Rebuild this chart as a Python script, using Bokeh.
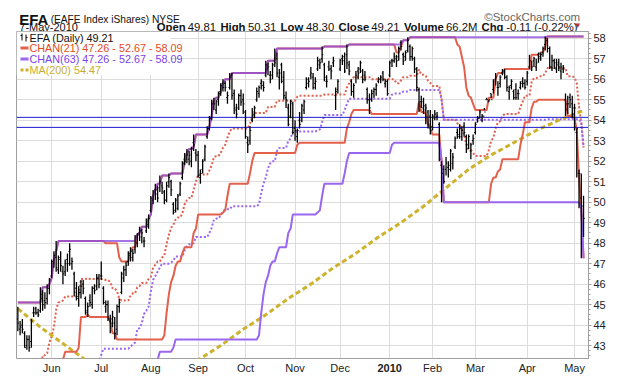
import pandas as pd
from bokeh.plotting import figure
from bokeh.layouts import column
from bokeh.models import Range1d, FixedTicker, LinearAxis
from bokeh.core.properties import value
from bokeh.embed import file_html
from bokeh.resources import INLINE

# ---------------- data ----------------
holidays = ["2009-05-25", "2009-07-03", "2009-09-07", "2009-11-26", "2009-12-25",
            "2010-01-01", "2010-01-18", "2010-02-15", "2010-04-02"]
dates = pd.bdate_range("2009-05-08", "2010-05-07", freq="C", holidays=holidays)

# 63 sessions before the window (Feb 6 - May 7 2009), only used by the channels
hist_high = [38.4, 38.6, 37.6, 36.9, 36.3, 36.1,
             35.4, 34.6, 34.2, 33.8,
             33.4, 33.5, 34.0, 34.4, 34.1,
             32.9, 32.6, 33.0, 32.4, 32.2,
             32.0, 33.6, 34.1, 34.6, 35.3,
             35.6, 35.5, 36.3, 36.7, 36.6,
             37.6, 38.9, 38.4, 39.0, 38.8,
             37.3, 37.8, 38.5, 39.8, 40.1,
             39.6, 38.8, 39.0, 40.1,
             40.0, 39.7, 39.6, 40.0, 40.3,
             39.0, 39.1, 39.2, 39.6, 40.5,
             40.6, 40.7, 41.5, 41.8, 41.9,
             43.6, 43.8, 45.1, 44.6]
hist_low = [37.2, 37.5, 35.8, 35.6, 35.0, 35.2,
            33.6, 33.5, 33.0, 32.6,
            32.0, 32.3, 32.8, 33.5, 32.9,
            31.6, 31.4, 31.9, 31.2, 31.0,
            30.9, 31.5, 32.9, 33.2, 34.0,
            34.4, 34.2, 35.0, 35.6, 35.4,
            36.2, 37.6, 37.0, 37.8, 37.5,
            35.9, 36.3, 37.0, 38.6, 39.0,
            38.4, 37.6, 37.9, 39.0,
            38.9, 38.5, 38.4, 38.8, 39.2,
            37.6, 37.8, 38.0, 38.2, 39.4,
            39.2, 39.4, 40.3, 40.6, 40.6,
            41.9, 42.1, 42.2, 42.3]

open_ = [
    # May 2009
    44.3, 43.8, 44.0, 43.6, 43.0, 43.3, 43.2, 44.6, 44.8, 44.6, 44.7, 45.3, 45.2, 45.3, 45.8,
    # Jun
    46.4, 47.0, 47.3, 46.7, 47.3, 46.6, 46.6, 47.2, 47.6, 47.0, 46.5, 45.8, 45.4, 45.6, 46.0,
    45.3, 44.7, 45.2, 45.0, 45.8, 45.9, 46.3,
    # Jul
    46.4, 45.8, 44.9, 45.0, 44.2, 44.3, 44.1, 43.8, 44.9, 45.6, 46.3, 46.7, 47.1, 47.5, 47.3,
    47.7, 48.0, 48.5, 48.3, 48.1, 48.6, 48.9,
    # Aug
    49.6, 50.1, 50.6, 50.6, 50.7, 50.8, 50.5, 50.1, 51.0, 51.0, 49.9, 49.6, 49.7, 50.4, 51.2,
    52.1, 52.1, 52.1, 52.0, 52.9, 52.4,
    # Sep
    52.3, 51.2, 51.6, 52.1, 53.2, 53.6, 54.1, 54.9, 54.5, 55.0, 55.4, 55.8, 55.8, 55.1, 55.6,
    56.2, 55.3, 54.5, 54.6, 55.2, 55.0,
    # Oct
    54.4, 52.9, 53.0, 54.0, 54.3, 55.0, 55.3, 55.8, 55.7, 56.2, 56.5, 56.2, 56.2, 56.9, 57.0,
    56.1, 56.7, 56.1, 55.1, 54.6, 54.2, 54.8,
    # Nov
    53.6, 53.2, 54.0, 54.0, 54.5, 55.6, 55.8, 56.2, 56.1, 55.8, 56.5, 56.7, 57.0, 56.7, 55.9,
    56.6, 56.5, 56.8, 55.2, 55.5,
    # Dec
    56.5, 57.0, 57.1, 57.2, 56.7, 55.9, 55.4, 56.1, 56.4, 56.5, 56.4, 56.2, 55.5, 55.0, 55.0,
    55.4, 55.5, 55.9, 56.0, 56.3, 55.8, 55.9,
    # Jan 2010
    56.2, 56.9, 56.9, 57.0, 57.1, 57.8, 57.2, 57.1, 57.4, 57.6, 57.1, 57.0, 56.5, 55.5, 54.9,
    54.6, 54.5, 54.4, 54.2,
    # Feb
    53.7, 54.1, 54.2, 53.8, 51.8, 51.6, 51.6, 51.7, 51.6, 51.9, 52.7, 53.4, 53.2, 53.2, 53.7,
    53.2, 52.8, 52.5, 53.0,
    # Mar
    53.4, 53.9, 54.1, 54.0, 54.2, 55.0, 54.9, 55.3, 55.5, 56.0, 55.6, 55.8, 56.3, 56.3, 56.1,
    55.4, 55.7, 55.4, 55.5, 55.3, 55.6, 55.9, 55.8,
    # Apr
    55.9, 56.6, 56.5, 56.9, 56.6, 57.2, 57.0, 57.3, 57.7, 57.9, 57.5, 56.6, 56.9, 56.5, 56.8,
    56.4, 56.5, 55.0, 54.8, 55.1, 54.8,
    # May 2010
    54.6, 53.4, 51.4, 50.2, 49.81,
]
high = [
    44.9, 44.2, 44.3, 43.7, 43.5, 43.5, 44.3, 44.9, 44.9, 44.8, 45.85, 45.7, 45.6, 46.0, 46.3,
    47.2, 47.6, 48.1, 47.4, 47.6, 46.9, 47.2, 47.5, 48.0, 47.3, 46.6, 46.1, 45.9, 46.2, 46.2,
    45.4, 45.1, 45.5, 45.9, 46.0, 46.5, 46.5,
    47.1, 45.9, 45.2, 45.2, 44.5, 44.7, 44.4, 45.0, 45.3, 46.6, 46.9, 47.1, 47.6, 47.8, 47.7,
    48.4, 48.5, 48.8, 48.7, 48.3, 49.2, 49.4,
    50.3, 50.6, 50.9, 50.8, 51.3, 51.0, 50.6, 51.0, 51.4, 51.1, 50.0, 50.2, 50.4, 51.0, 52.0,
    52.4, 52.6, 52.5, 52.7, 53.3, 52.6,
    52.5, 51.6, 52.1, 52.8, 53.7, 54.2, 55.0, 55.1, 55.0, 55.4, 55.8, 56.0, 55.9, 55.4, 56.3,
    56.3, 55.5, 54.8, 55.3, 55.5, 55.3,
    54.5, 53.2, 53.7, 54.6, 54.7, 55.6, 55.7, 56.0, 55.9, 56.9, 56.8, 56.4, 56.8, 57.5, 57.3,
    56.5, 56.8, 56.4, 55.4, 54.8, 55.0, 54.9,
    54.0, 53.6, 54.4, 54.8, 55.0, 56.1, 56.1, 56.6, 56.3, 56.1, 57.1, 57.0, 57.6, 56.8, 56.2,
    56.9, 56.7, 57.1, 55.6, 56.0,
    57.0, 57.2, 57.3, 57.7, 56.9, 56.0, 55.8, 56.4, 56.6, 56.9, 56.5, 56.4, 55.6, 55.3, 55.5,
    55.6, 55.8, 56.1, 56.2, 56.4, 56.0, 56.0,
    56.9, 57.0, 57.3, 57.2, 57.6, 57.9, 57.3, 57.4, 58.05, 57.7, 57.6, 57.1, 56.6, 55.6, 55.2,
    55.1, 54.8, 54.5, 54.5,
    54.3, 54.5, 54.4, 53.9, 52.0, 51.8, 52.2, 52.0, 52.6, 52.4, 53.2, 53.6, 53.8, 53.7, 53.9,
    53.3, 53.3, 52.9, 53.3,
    53.9, 54.2, 54.5, 54.3, 54.5, 55.1, 55.0, 55.1, 56.0, 56.3, 55.9, 56.2, 56.5, 56.5, 56.2,
    55.7, 56.0, 55.5, 55.8, 55.5, 55.9, 56.1, 56.0,
    56.4, 57.2, 56.9, 57.1, 57.0, 57.3, 57.3, 57.6, 58.09, 58.0, 57.6, 57.2, 57.0, 57.0, 57.0,
    56.8, 56.7, 55.3, 55.2, 55.3, 55.2,
    54.8, 53.6, 51.6, 51.4, 50.31,
]
low = [
    43.7, 43.5, 43.6, 42.9, 42.8, 42.7, 42.9, 44.4, 44.5, 44.4, 44.6, 44.7, 44.8, 45.0, 45.5,
    46.3, 46.8, 46.6, 46.5, 46.6, 46.0, 46.4, 46.6, 46.9, 46.7, 45.4, 45.2, 44.9, 45.3, 45.5,
    44.5, 44.4, 44.9, 44.8, 45.5, 45.7, 45.8,
    46.2, 45.0, 44.6, 44.2, 43.6, 43.9, 43.3, 43.5, 44.6, 45.5, 46.1, 46.4, 46.9, 47.1, 47.1,
    47.5, 47.8, 48.1, 48.0, 47.8, 48.5, 48.7,
    49.5, 49.9, 50.1, 50.0, 50.5, 50.4, 49.9, 50.0, 50.7, 50.3, 49.4, 49.5, 49.6, 50.3, 51.1,
    51.8, 51.9, 51.8, 51.7, 52.5, 52.0,
    51.2, 50.9, 51.4, 52.0, 53.1, 53.5, 54.0, 54.5, 54.3, 54.7, 55.2, 55.4, 55.4, 54.8, 55.5,
    55.0, 54.3, 54.1, 54.5, 54.7, 54.3,
    53.1, 52.4, 52.8, 53.9, 54.1, 54.9, 55.1, 55.5, 55.4, 56.1, 56.2, 55.8, 56.0, 56.6, 56.1,
    55.5, 55.8, 55.0, 54.6, 53.7, 54.1, 53.3,
    53.0, 52.9, 53.6, 53.9, 54.3, 55.5, 55.6, 56.0, 55.5, 55.5, 56.4, 56.5, 56.8, 55.9, 55.6,
    56.4, 56.0, 56.6, 54.5, 55.3,
    56.4, 56.7, 56.3, 56.5, 56.2, 55.2, 55.1, 55.8, 56.0, 56.3, 55.8, 55.9, 54.8, 54.3, 54.9,
    55.1, 55.2, 55.8, 55.8, 55.9, 55.6, 55.2,
    56.1, 56.6, 56.8, 56.6, 56.9, 57.4, 56.7, 56.9, 57.3, 56.9, 56.9, 56.3, 55.4, 54.4, 54.6,
    54.3, 53.8, 53.6, 53.3,
    53.5, 54.0, 54.0, 52.0, 50.0, 50.9, 51.3, 51.2, 51.5, 51.6, 52.6, 53.1, 53.1, 53.0, 53.2,
    52.4, 52.6, 52.1, 52.8,
    53.3, 53.9, 54.1, 53.9, 54.6, 55.0, 54.9, 55.3, 55.3, 55.7, 55.2, 55.6, 56.2, 56.0, 55.4,
    55.0, 55.5, 55.0, 55.0, 55.0, 55.5, 55.6, 55.5,
    55.7, 56.5, 56.4, 56.6, 56.4, 56.8, 56.9, 57.1, 57.4, 57.3, 56.5, 56.4, 56.5, 56.3, 56.4,
    56.0, 56.3, 54.2, 54.3, 54.6, 54.1,
    53.5, 51.2, 49.7, 47.26, 48.30,
]
close = [
    44.1, 43.9, 43.8, 42.9, 43.3, 42.9, 44.2, 44.6, 44.6, 44.5, 45.5, 45.0, 45.1, 45.8, 46.2,
    47.1, 47.4, 46.8, 47.2, 46.9, 46.5, 47.0, 47.0, 47.7, 47.1, 45.6, 45.3, 45.6, 45.9, 45.8,
    44.6, 44.9, 45.1, 45.8, 45.7, 46.3, 46.0,
    46.4, 45.1, 45.0, 44.3, 44.1, 44.4, 43.6, 44.9, 45.1, 46.5, 46.7, 46.9, 47.4, 47.6, 47.5,
    48.3, 48.4, 48.6, 48.5, 48.1, 48.8, 49.2,
    50.2, 50.5, 50.4, 50.2, 51.0, 50.7, 50.1, 50.8, 51.2, 50.6, 49.5, 50.1, 50.3, 50.9, 51.9,
    52.0, 52.3, 52.3, 52.6, 52.8, 52.3,
    51.3, 51.4, 52.0, 52.7, 53.6, 54.1, 54.8, 54.8, 54.9, 55.3, 55.7, 55.6, 55.6, 55.2, 56.1,
    55.2, 54.6, 54.3, 55.2, 54.9, 54.8,
    53.2, 52.8, 53.5, 54.4, 54.6, 55.4, 55.6, 55.9, 55.6, 56.7, 56.6, 56.0, 56.7, 56.8, 56.3,
    56.3, 55.9, 55.2, 55.0, 53.8, 54.9, 53.4,
    53.5, 53.5, 53.8, 54.7, 54.9, 56.0, 55.9, 56.3, 55.6, 55.9, 56.9, 56.8, 57.2, 56.1, 55.9,
    56.5, 56.4, 56.9, 55.4, 55.9,
    56.9, 56.9, 56.4, 56.8, 56.4, 55.4, 55.7, 56.2, 56.3, 56.8, 56.0, 56.0, 55.0, 54.6, 55.3,
    55.5, 55.7, 56.0, 56.1, 56.0, 55.9, 55.3,
    56.8, 56.9, 57.1, 56.9, 57.5, 57.6, 56.9, 57.3, 57.9, 57.1, 57.5, 56.5, 55.6, 54.5, 54.9,
    54.7, 54.6, 53.8, 53.5,
    54.2, 54.3, 54.2, 52.1, 51.4, 51.0, 51.9, 51.8, 52.5, 52.2, 53.1, 53.3, 53.6, 53.5, 53.4,
    52.6, 53.2, 52.8, 53.1,
    53.8, 54.1, 54.4, 54.2, 54.4, 55.0, 55.0, 55.0, 55.9, 56.1, 55.6, 56.1, 56.4, 56.1, 55.6,
    55.6, 55.9, 55.1, 55.1, 55.3, 55.8, 55.8, 55.6,
    56.3, 56.9, 56.6, 57.0, 56.8, 57.1, 57.2, 57.5, 58.0, 57.5, 56.6, 56.9, 56.8, 56.7, 56.6,
    56.6, 56.5, 54.5, 54.8, 55.0, 54.3,
    54.6, 53.6, 51.4, 49.32, 49.21,
]

# MA(200) every 10 sessions (session index, value)
ma_idx = [0, 10, 20, 30, 40, 50, 60, 70, 80, 90, 100, 110, 120, 130, 140, 150, 160, 170,
          180, 190, 200, 210, 220, 230, 240, 251]
ma_val = [44.8, 43.9, 43.1, 42.3, 41.7, 41.3, 41.1, 41.4, 42.3, 43.0, 43.8, 44.5, 45.3,
          46.0, 46.8, 47.5, 48.3, 49.0, 49.8, 50.7, 51.6, 52.3, 52.9, 53.5, 54.0, 54.47]

# user-drawn horizontal reference lines
hlines = [54.14, 53.65]

month_labels = ["Jun", "Jul", "Aug", "Sep", "Oct", "Nov", "Dec", "2010", "Feb", "Mar", "Apr", "May"]

# header quote fields
quote = [("Open", "49.81"), ("High", "50.31"), ("Low", "48.30"), ("Close", "49.21"),
         ("Volume", "66.2M"), ("Chg", "-0.11 (-0.22%)")]

# ---------------- derived series ----------------
n = len(close)
all_high = pd.Series(hist_high + high)
all_low = pd.Series(hist_low + low)
nh = len(hist_high)


def channel(period):
    up = all_high.rolling(period).max().shift(1).iloc[nh:].to_numpy()
    lo = all_low.rolling(period).min().shift(1).iloc[nh:].to_numpy()
    return up, lo, (up + lo) / 2


u21, l21, m21 = channel(21)
u63, l63, m63 = channel(63)
xs = list(range(n))

month_pos = []
seen = set()
for i, d in enumerate(dates):
    key = (d.year, d.month)
    if key not in seen:
        seen.add(key)
        if i > 0:
            month_pos.append(i)
year_pos = month_pos[month_labels.index("2010")]

FONT = "Liberation Sans"

# approximate Arial / Liberation Sans advance widths (per 1000 em) for layout
REG = {c: 556 for c in "0123456789"}
REG.update({".": 278, " ": 278, "-": 333, "(": 333, ")": 333, "%": 889, "M": 833})
BOLD = {"O": 778, "p": 611, "e": 556, "n": 611, "H": 722, "i": 278, "g": 611, "h": 611,
        "L": 611, "o": 611, "w": 778, "C": 722, "l": 278, "s": 556, "V": 667, "u": 611,
        "m": 889}


def twidth(t, table, size):
    return sum(table.get(c, 556) for c in t) * size / 1000.0


# ---------------- header figure ----------------
W = 620
HH = 31
hdr = figure(width=W, height=HH, output_backend="svg", toolbar_location=None,
             x_range=Range1d(0, W), y_range=Range1d(HH, 0), min_border=0)
hdr.axis.visible = False
hdr.grid.visible = False
hdr.outline_line_color = None


def htext(px, py, t, size="11px", bold=False, color="#111111", align="left"):
    hdr.text(x=[px], y=[py], text=[t], text_align=align, text_baseline="alphabetic",
             text_font=value(FONT), text_font_size=size,
             text_font_style="bold" if bold else "normal", text_color=color)


BASE2 = 26.0
htext(3, 18.5, "EFA", size="15px", bold=True)
htext(37, 18.5, "(EAFE Index iShares) NYSE", size="10.2px")
htext(611, 16, "\u00a9StockCharts.com", size="11.5px", color="#666666", align="right")
htext(3, BASE2, "7-May-2010", size="11px")

QS = 11.3
start, end = 152.0, 603.0
inner_gap = 4.8
total = sum(twidth(k, BOLD, QS) + twidth(v, REG, QS) for k, v in quote) + inner_gap * len(quote)
group_gap = (end - start - total) / (len(quote) - 1)
cx = start
for k, v in quote:
    htext(cx, BASE2, k, size="%.1fpx" % QS, bold=True)
    cx += twidth(k, BOLD, QS) + inner_gap
    htext(cx, BASE2, v, size="%.1fpx" % QS)
    cx += twidth(v, REG, QS) + group_gap
htext(604, 25.3, "\u25bc", size="8px", color="#c03030")

# ---------------- main figure ----------------
H = 376 - HH
FL, FR, FT, FB = 16, 588, 0, 328
xr = (-0.6, 253.2)
yr = (42.37, 58.33)

p = figure(width=W, height=H, output_backend="svg", toolbar_location=None,
           x_range=Range1d(*xr), y_range=Range1d(*yr), y_axis_location="right",
           min_border_left=FL, min_border_right=W - FR, min_border_top=FT,
           min_border_bottom=H - FB)
p.outline_line_color = "#a0a0a0"
p.background_fill_color = "white"
p.border_fill_color = "white"


def px_x(px):
    return xr[0] + (px - FL) / (FR - FL) * (xr[1] - xr[0])


def px_y(py):
    # py measured in page pixels
    return yr[1] - (py - HH - FT) / (FB - FT) * (yr[1] - yr[0])


# x axis: month names (the year label is supplied, in bold, by a second axis)
xax = p.xaxis[0]
xax.ticker = FixedTicker(ticks=month_pos)
xax.major_label_overrides = {pos: (lab if pos != year_pos else "")
                             for pos, lab in zip(month_pos, month_labels)}
xax.major_label_text_font = FONT
xax.major_label_text_font_size = "11px"
xax.major_label_text_color = "#222222"
xax.major_tick_line_color = None
xax.major_tick_out = 0
xax.major_tick_in = 0
xax.minor_tick_line_color = None
xax.minor_tick_out = 0
xax.axis_line_color = None
xax.major_label_standoff = 3

yax2 = LinearAxis(ticker=FixedTicker(ticks=[year_pos]),
                  major_label_overrides={year_pos: "2010"},
                  major_label_text_font=FONT, major_label_text_font_size="11px",
                  major_label_text_font_style="bold", major_label_text_color="#222222",
                  major_tick_line_color=None, major_tick_out=0, major_tick_in=0,
                  minor_tick_line_color=None, minor_tick_out=0, axis_line_color=None,
                  major_label_standoff=-13)
p.add_layout(yax2, "below")

p.yaxis.ticker = FixedTicker(ticks=list(range(43, 59)),
                             minor_ticks=[v / 4 for v in range(42 * 4, 59 * 4)])
p.yaxis.major_label_text_font = FONT
p.yaxis.major_label_text_font_size = "11px"
p.yaxis.major_label_text_color = "#222222"
p.yaxis.axis_line_color = "#a0a0a0"
p.yaxis.major_tick_line_color = "#a0a0a0"
p.yaxis.minor_tick_line_color = "#a0a0a0"
p.yaxis.major_tick_out = 3
p.yaxis.major_tick_in = 0
p.yaxis.minor_tick_out = 2
p.yaxis.minor_tick_in = 0
p.yaxis.major_label_standoff = 2

p.xgrid.ticker = FixedTicker(ticks=month_pos)
p.xgrid.grid_line_color = "#dcdcdc"
p.ygrid.grid_line_color = "#dcdcdc"

# indicator lines
RED = "#e2604c"
PUR = "#9050e0"
LPUR = "#9a66f0"
YEL = "#cdb22c"
p.line(xs, m21, line_color=RED, line_width=2, line_dash="2 2")
p.line(xs, m63, line_color=LPUR, line_width=2, line_dash="2 2")
p.line(ma_idx, ma_val, line_color=YEL, line_width=3, line_dash="5 3")
p.line(xs, u21, line_color=RED, line_width=2)
p.line(xs, l21, line_color=RED, line_width=2)
p.line(xs, u63, line_color=PUR, line_width=2, line_alpha=0.8)
p.line(xs, l63, line_color=LPUR, line_width=2)

for hv in hlines:
    p.line([xr[0], xr[1]], [hv, hv], line_color="#1a1ad0", line_width=1)

# OHLC bars
p.segment(xs, low, xs, high, line_color="black", line_width=1.3)
p.segment([x - 0.55 for x in xs], open_, xs, open_, line_color="black", line_width=1)
p.segment(xs, close, [x + 0.55 for x in xs], close, line_color="black", line_width=1)

# legend
lx0, lx1 = px_x(20), px_x(28)
rows = [37.5, 47.5, 58.5, 69.5]
p.quad(left=[px_x(16)], right=[px_x(170)], top=[px_y(31)], bottom=[px_y(75)],
       fill_color="white", line_color=None)
p.segment([px_x(21.5), px_x(25.5)], [px_y(33), px_y(34)], [px_x(21.5), px_x(25.5)],
          [px_y(40), px_y(41)], line_color="black", line_width=1)
p.segment([px_x(20), px_x(25.5)], [px_y(35), px_y(37)], [px_x(21.5), px_x(27)],
          [px_y(35), px_y(37)], line_color="black", line_width=1)
p.segment([lx0], [px_y(rows[1])], [lx1], [px_y(rows[1])], line_color=RED, line_width=3)
p.segment([lx0], [px_y(rows[2])], [lx1], [px_y(rows[2])], line_color=LPUR, line_width=3)
p.segment([lx0], [px_y(rows[3])], [lx1], [px_y(rows[3])], line_color=YEL, line_width=3,
          line_dash="3 2")
leg_texts = [("EFA (Daily) 49.21", "#111111"),
             ("CHAN(21) 47.26 - 52.67 - 58.09", "#e04a22"),
             ("CHAN(63) 47.26 - 52.67 - 58.09", "#7a44e6"),
             ("MA(200) 54.47", "#c8ae30")]
for (t, c), ry in zip(leg_texts, rows):
    p.text(x=[px_x(29)], y=[px_y(ry)], text=[t], text_baseline="middle",
           text_font=value(FONT), text_font_size="10.8px", text_color=c)

layout = column(hdr, p, spacing=0)
open("out.html", "w").write(file_html(layout, INLINE))
